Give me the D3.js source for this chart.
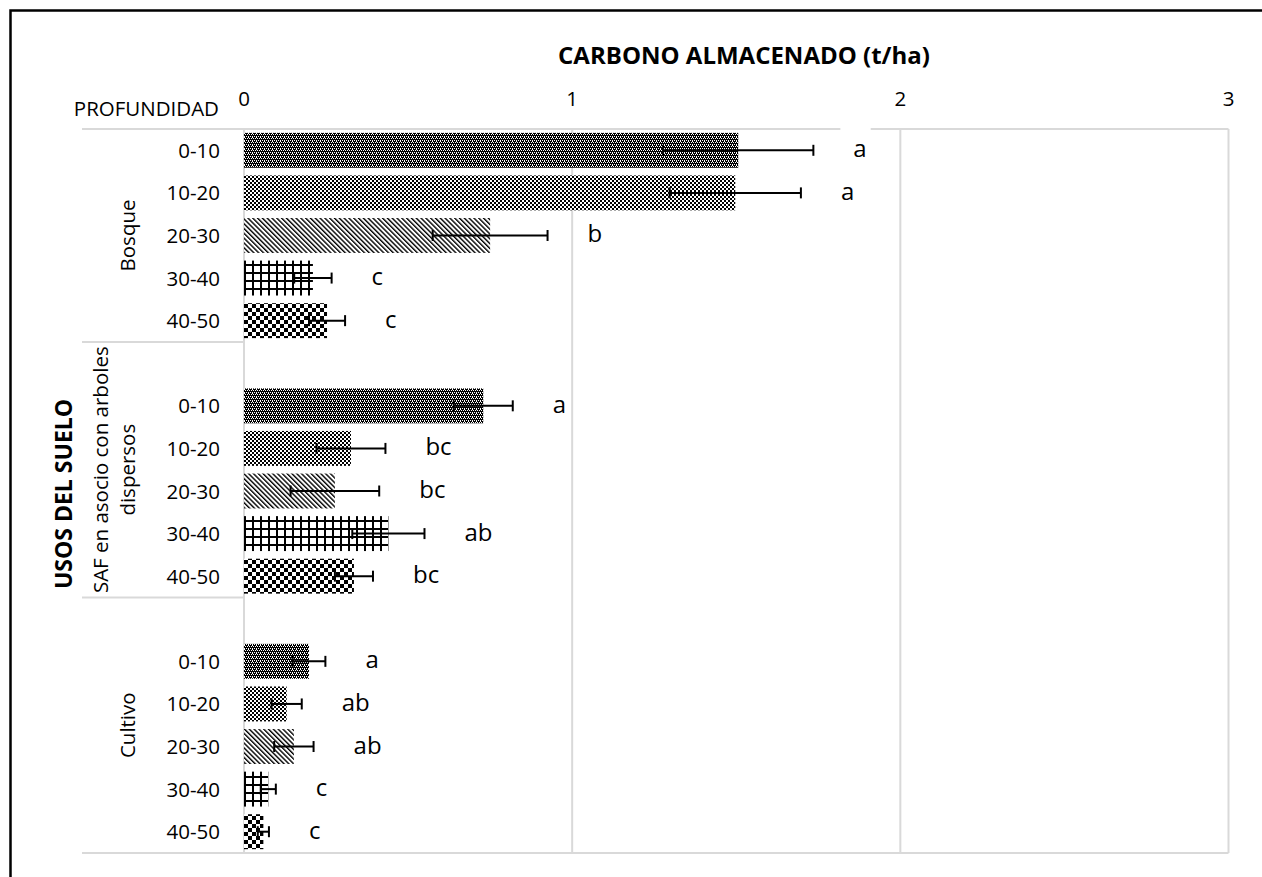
<!DOCTYPE html>
<html><head><meta charset="utf-8">
<script src="https://cdn.jsdelivr.net/npm/d3@7"></script>
<style>
body{margin:0;background:#fff}
svg{display:block}
text{font-family:"Open Sans",sans-serif;fill:#000}
</style>
</head><body>
<svg id="chart" width="1262" height="877"></svg>
<script>
// ---- data ----
const groups = ["Bosque", "SAF en asocio con arboles dispersos", "Cultivo"];
const groupLines = [["Bosque"], ["SAF en asocio con arboles", "dispersos"], ["Cultivo"]];
const depths = ["0-10", "10-20", "20-30", "30-40", "40-50"];
const bosqueValues = [1.506, 1.497, 0.750, 0.210, 0.253];
const safValues = [0.729, 0.326, 0.277, 0.440, 0.335];
const cultivoValues = [0.198, 0.130, 0.152, 0.074, 0.059];
const bosqueErrors = [0.229, 0.200, 0.175, 0.057, 0.055];
const safErrors = [0.090, 0.105, 0.135, 0.110, 0.058];
const cultivoErrors = [0.050, 0.046, 0.060, 0.023, 0.017];
const bosqueLetters = ["a", "a", "b", "c", "c"];
const safLetters = ["a", "bc", "bc", "ab", "bc"];
const cultivoLetters = ["a", "ab", "ab", "c", "c"];
const xTicks = [0, 1, 2, 3];
const xTickLabels = ["0", "1", "2", "3"];
const title = "CARBONO ALMACENADO (t/ha)";
const yTitle = "USOS DEL SUELO";
const depthTitle = "PROFUNDIDAD";

const valueSets = [bosqueValues, safValues, cultivoValues];
const errorSets = [bosqueErrors, safErrors, cultivoErrors];
const letterSets = [bosqueLetters, safLetters, cultivoLetters];

// ---- rows (blank slot before groups 2 and 3, as in the source chart) ----
const rows = [];
const slots = [];
groups.forEach((g, gi) => {
  if (gi > 0) slots.push(g + "|blank");
  depths.forEach((d, di) => {
    const key = g + "|" + d;
    slots.push(key);
    rows.push({key, group: g, gi, depth: d, di,
      value: valueSets[gi][di], err: errorSets[gi][di], letter: letterSets[gi][di]});
  });
});

// ---- layout ----
const plot = {left: 244, right: 1228.5, top: 129, bottom: 853};
const x = d3.scaleLinear().domain([0, 3]).range([plot.left, plot.right]);
const y = d3.scaleBand().domain(slots).range([plot.top, plot.bottom])
  .paddingInner(0.18).paddingOuter(0.09);

const svg = d3.select("#chart");
svg.append("rect").attr("width", 1262).attr("height", 877).attr("fill", "#fff");

// ---- patterns ----
const defs = svg.append("defs");
function pat(id, w, h) {
  return defs.append("pattern").attr("id", id).attr("patternUnits", "userSpaceOnUse")
    .attr("width", w).attr("height", h).attr("shape-rendering", "crispEdges");
}
// 0-10 : dark dotted
let p = pat("p0", 4, 4);
p.append("rect").attr("width", 4).attr("height", 4).attr("fill", "#000");
[[0,0],[2,0],[1,2],[3,2],[0,1]].forEach(([a,b]) => p.append("rect").attr("x", a).attr("y", b).attr("width", 1).attr("height", 1).attr("fill", "#fff"));
// 10-20 : small checker
p = pat("p1", 4, 4);
p.append("rect").attr("width", 4).attr("height", 4).attr("fill", "#fff");
[[0,0],[2,2]].forEach(([a,b]) => p.append("rect").attr("x", a).attr("y", b).attr("width", 2).attr("height", 2).attr("fill", "#000"));
// 20-30 : downward diagonal
p = defs.append("pattern").attr("id", "p2").attr("patternUnits", "userSpaceOnUse")
  .attr("width", 3.4).attr("height", 10).attr("patternTransform", "rotate(-45)");
p.append("rect").attr("width", 3.4).attr("height", 10).attr("fill", "#fff");
p.append("rect").attr("width", 1.4).attr("height", 10).attr("fill", "#000");
// 30-40 : large grid
p = pat("p3", 8, 8).attr("patternTransform", "translate(244,0)");
p.append("rect").attr("width", 8).attr("height", 8).attr("fill", "#fff");
p.append("rect").attr("width", 2).attr("height", 8).attr("fill", "#000");
p.append("rect").attr("width", 8).attr("height", 2).attr("fill", "#000");
// 40-50 : large checker
p = pat("p4", 8, 8).attr("patternTransform", "translate(244,0)");
p.append("rect").attr("width", 8).attr("height", 8).attr("fill", "#fff");
[[0,0],[4,4]].forEach(([a,b]) => p.append("rect").attr("x", a).attr("y", b).attr("width", 4).attr("height", 4).attr("fill", "#000"));

// ---- outer frame (only top and left edges fall inside the picture) ----
svg.append("rect").attr("x", 10.5).attr("y", 10.5).attr("width", 1400).attr("height", 1000)
  .attr("fill", "none").attr("stroke", "#000").attr("stroke-width", 2.5);

// ---- gridlines / axis frame ----
const grid = svg.append("g").attr("stroke", "#d9d9d9").attr("stroke-width", 2).attr("fill", "none");
xTicks.filter(t => t > 0).forEach(t => {
  grid.append("line").attr("x1", x(t)).attr("x2", x(t)).attr("y1", plot.top).attr("y2", plot.bottom);
});
grid.append("line").attr("x1", x(0)).attr("x2", x(0)).attr("y1", plot.top).attr("y2", plot.bottom);
const groupEdges = groups.map((g, gi) => {
  const first = rows.find(r => r.gi === gi).key;
  const idx = slots.indexOf(first) - (gi > 0 ? 1 : 0);
  return plot.top + y.step() * idx;
});
groupEdges.push(plot.bottom);
groupEdges.forEach((ey, i) => {
  const isOuter = i === 0 || i === groupEdges.length - 1;
  grid.append("line").attr("x1", 82).attr("x2", isOuter ? plot.right : x(0)).attr("y1", ey).attr("y2", ey);
});

// ---- bars ----
svg.append("g").selectAll("rect").data(rows).join("rect")
  .attr("x", x(0))
  .attr("y", d => y(d.key))
  .attr("width", d => x(d.value) - x(0))
  .attr("height", y.bandwidth())
  .attr("fill", d => `url(#p${d.di})`);

// ---- error bars ----
const eb = svg.append("g").attr("stroke", "#000").attr("stroke-width", 2);
rows.forEach(d => {
  const cy = y(d.key) + y.bandwidth() / 2;
  const x1 = x(d.value - d.err), x2 = x(d.value + d.err);
  eb.append("line").attr("x1", x1).attr("x2", x2).attr("y1", cy).attr("y2", cy);
  [x1, x2].forEach(xx => eb.append("line").attr("x1", xx).attr("x2", xx).attr("y1", cy - 5.5).attr("y2", cy + 5.5));
});

// ---- letter labels (white label boxes) ----
const lab = svg.append("g");
rows.forEach(d => {
  const cy = y(d.key) + y.bandwidth() / 2;
  const lx = x(d.value + d.err) + 40;
  const g = lab.append("g");
  const t = g.append("text").attr("x", lx).attr("y", cy + 7).attr("font-size", 24).text(d.letter);
  const w = t.node().getComputedTextLength();
  g.insert("rect", "text").attr("x", lx - 13).attr("y", cy - 24).attr("width", w + 17).attr("height", 40).attr("fill", "#fff");
});

// ---- x tick labels ----
svg.append("g").selectAll("text").data(xTicks).join("text")
  .attr("x", d => x(d)).attr("y", 105.5).attr("text-anchor", "middle").attr("font-size", 20.5)
  .text((d, i) => xTickLabels[i]);

// ---- title ----
svg.append("text").attr("x", 744).attr("y", 64).attr("text-anchor", "middle")
  .attr("font-size", 24).attr("font-weight", "bold").text(title);

// ---- depth labels ----
svg.append("text").attr("x", 219).attr("y", 116).attr("text-anchor", "end").attr("font-size", 20.5).text(depthTitle);
svg.append("g").selectAll("text").data(rows).join("text")
  .attr("x", 220).attr("y", d => y(d.key) + y.bandwidth() / 2 + 7.5)
  .attr("text-anchor", "end").attr("font-size", 20.5).text(d => d.depth);

// ---- group labels ----
groups.forEach((g, gi) => {
  const cy = (groupEdges[gi] + groupEdges[gi + 1]) / 2;
  const lines = groupLines[gi];
  const baseX = lines.length === 1 ? 135 : 108;
  const t = svg.append("text").attr("transform", `translate(${baseX},${cy}) rotate(-90)`)
    .attr("text-anchor", "middle").attr("font-size", 20.5);
  lines.forEach((ln, li) => t.append("tspan").attr("x", 0).attr("y", li * 27).text(ln));
});

// ---- y title ----
svg.append("text").attr("transform", `translate(72,${(plot.top + plot.bottom) / 2 + 3}) rotate(-90)`)
  .attr("text-anchor", "middle").attr("font-size", 23).attr("font-weight", "bold").text(yTitle);
</script>
</body></html>
